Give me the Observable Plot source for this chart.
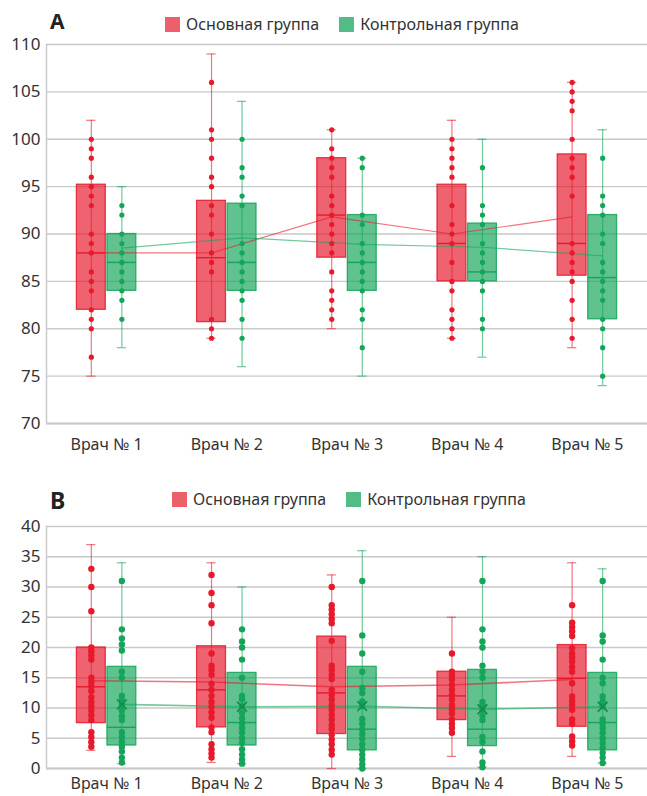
<!DOCTYPE html>
<html><head><meta charset="utf-8">
<script src="https://cdn.jsdelivr.net/npm/d3@7"></script>
<script src="https://cdn.jsdelivr.net/npm/@observablehq/plot@0.6"></script>
<style>
body{margin:0;background:#fff;font-family:"Noto Sans",sans-serif;color:#333;}
#root{width:647px;position:relative;}
.hdr{position:relative;width:647px;}
.letter{position:absolute;font-weight:bold;color:#222;line-height:1;}
.legend{position:absolute;display:flex;align-items:center;font-size:16px;line-height:20px;white-space:nowrap;color:#333;}
.sw{display:inline-block;width:15px;height:15px;}
svg{display:block}
</style></head><body><div id="root"></div>
<script>
const doctors = ["Врач № 1","Врач № 2","Врач № 3","Врач № 4","Врач № 5"];
const groups = ["Основная группа","Контрольная группа"];
const ticksA = [70,75,80,85,90,95,100,105,110];
const ticksB = [0,5,10,15,20,25,30,35,40];

// Panel A — основная группа
const aMainQ1 = [82, 80.7, 87.5, 85, 85.6];
const aMainMed = [88, 87.5, 92, 89, 89];
const aMainQ3 = [95.2, 93.5, 98, 95.2, 98.4];
const aMainLo = [75, 79, 80, 79, 78];
const aMainHi = [102, 109, 101, 102, 106];
const aMainMean = [88, 88, 91.8, 90, 91.8];
const aMainPts = [
  [100,99,98,96,95,94,93,90,89,88,86,85,84,82,81,80,77],
  [106,101,100,98,96,95,93,92,90,88,87,86,81,80,79],
  [101,99,98,97,96,94,93,92,91,90,89,88,86,84,83,82,81],
  [100,99,98,97,96,93,91,90,89,87,85,84,82,81,80,79],
  [106,105,104,103,100,98,97,96,94,89,88,87,86,85,83,81,79]
];
// Panel A — контрольная группа
const aCtrlQ1 = [84, 84, 84, 85, 81];
const aCtrlMed = [87, 87, 87, 86, 85.4];
const aCtrlQ3 = [90, 93.2, 92, 91.1, 92];
const aCtrlLo = [78, 76, 75, 77, 74];
const aCtrlHi = [95, 104, 98, 100, 101];
const aCtrlMean = [88.5, 89.6, 88.9, 88.6, 87.7];
const aCtrlPts = [
  [93,92,90,89,88,87,86,85,84,83,81],
  [100,97,96,94,93,89,88,87,86,85,84,83,81,79],
  [98,97,92,91,89,88,87,86,85,84,82,81,78],
  [97,93,92,91,89,88,87,86,85,84,81,80],
  [98,94,93,92,90,89,87,86,85,84,83,81,80,78,75]
];

// Panel B — основная группа
const bMainQ1 = [7.5, 6.8, 5.7, 8, 6.9];
const bMainMed = [13.5, 13, 12.5, 12, 14.9];
const bMainQ3 = [20, 20.2, 21.8, 16, 20.4];
const bMainLo = [3, 1, 0, 2, 2];
const bMainHi = [37, 34, 32, 25, 34];
const bMainMean = [14.5, 14.3, 13.5, 13.8, 14.7];
const bMainPts = [
  [33,30,26,20,19.4,18.7,18,15,14.3,13.6,12.8,11.8,11,10.3,9.6,8.8,8,6,5.2,4.4,3.6],
  [32,29,27,24,19,17,16.3,15.5,14,13,12,11,10.2,9.3,8.4,6.8,6,4,3.2,2.5,1.8],
  [30,27,26.3,25.5,24.7,24,21.1,17,16.3,15.5,14.8,13,12.2,11.4,10.5,9.7,8.9,8.1,7.2,6.5,5.6,4.8,4,3.1,2.3],
  [19,16,15.4,14.7,13.8,13,12.2,11.4,10.5,9.8,9.1,8.1,7.4,6.7,5.9],
  [27,24.1,23.4,22.7,21.9,19.9,19,18.4,17.7,16.8,16,14.1,11.9,11.2,10.5,9.7,8.1,7.4,5.3,4.5,3.8]
];
// Panel B — контрольная группа
const bCtrlQ1 = [3.8, 3.8, 3, 3.7, 3];
const bCtrlMed = [6.8, 7.6, 6.5, 6.5, 7.6];
const bCtrlQ3 = [16.8, 15.8, 16.8, 16.3, 15.8];
const bCtrlLo = [0.8, 0.8, 0, 0.2, 0.9];
const bCtrlHi = [34, 30, 36, 35, 33];
const bCtrlMean = [10.6, 10.2, 10.3, 9.8, 10.2];
const bCtrlPts = [
  [31,23,21.5,20.5,19.5,16,15,12,11.3,10.5,9.6,8.7,8,6,5.2,4.4,3.6,2.8,1.8,1],
  [23,21,20,18,15,12,11.4,10.3,9.2,8.3,7.5,6.7,5.9,5,4.2,3.2,2.3,1.5,0.8],
  [31,22,19,16,13.3,12.5,11.1,10.3,8.2,7.4,6.5,5.7,4.9,4,3.1,2.3,1.5,0.7,0],
  [31,23,21,20,17,16,15,11,10.4,9.7,8.8,8,5.2,4.4,2.8,1,0.2],
  [31,22,21,18,15,14.1,11.9,11.1,10.3,8.1,7.4,6.7,5.9,5,4.2,3.4,2.6,1.8,0.9]
];

const dotColor = ["#E8192C", "#14A55A"];
const swatchColor = ["#EC5F6B", "#52BC86"];
const GRID = "#c9c9c9";

function header(letter, letterSize, h, letterTop, legendLeft, legendTop) {
  const d = document.createElement("div");
  d.className = "hdr"; d.style.height = h + "px";
  const l = document.createElement("div");
  l.className = "letter"; l.textContent = letter;
  l.style.left = "50px"; l.style.top = letterTop + "px"; l.style.fontSize = letterSize + "px";
  d.appendChild(l);
  const lg = document.createElement("div");
  lg.className = "legend"; lg.style.left = legendLeft + "px"; lg.style.top = legendTop + "px";
  groups.forEach((g, i) => {
    const sw = document.createElement("span"); sw.className = "sw"; sw.style.background = swatchColor[i];
    sw.style.marginRight = "6px";
    const t = document.createElement("span"); t.textContent = g;
    t.style.marginRight = i === 0 ? "20px" : "0";
    lg.appendChild(sw); lg.appendChild(t);
  });
  d.appendChild(lg);
  return d;
}

function panel(cfg) {
  const off = [-0.127, 0.127], hw = 0.12, cap = 0.038;
  const boxes = [], pts = [];
  cfg.series.forEach((s, g) => {
    doctors.forEach((name, i) => {
      const x = i + off[g];
      boxes.push({g, x, q1: s.q1[i], med: s.med[i], q3: s.q3[i], lo: s.lo[i], hi: s.hi[i], mean: s.mean[i]});
      s.pts[i].forEach(v => pts.push({g, x, y: v}));
    });
  });
  const xDom = [-0.5, doctors.length - 0.5];
  const marks = [
    Plot.gridY(cfg.ticks, {stroke: GRID, strokeOpacity: 1, strokeWidth: 1.3}),
    Plot.ruleX([xDom[0]], {stroke: GRID, strokeWidth: 1.5}),
    Plot.ruleY([cfg.ticks[0]], {stroke: GRID, strokeWidth: 2.2})
  ];
  [0, 1].forEach(g => {
    const b = boxes.filter(d => d.g === g);
    const c = dotColor[g];
    marks.push(
      Plot.ruleX(b, {x: "x", y1: "lo", y2: "hi", stroke: c, strokeOpacity: 0.6, strokeWidth: 1.2}),
      Plot.ruleY(b, {y: "lo", x1: d => d.x - cap, x2: d => d.x + cap, stroke: c, strokeOpacity: 0.6, strokeWidth: 1.2}),
      Plot.ruleY(b, {y: "hi", x1: d => d.x - cap, x2: d => d.x + cap, stroke: c, strokeOpacity: 0.6, strokeWidth: 1.2}),
      Plot.rect(b, {x1: d => d.x - hw, x2: d => d.x + hw, y1: "q1", y2: "q3", fill: c, fillOpacity: 0.68, stroke: c, strokeOpacity: 0.85, strokeWidth: 1.3}),
      Plot.ruleY(b, {y: "med", x1: d => d.x - hw, x2: d => d.x + hw, stroke: c, strokeWidth: 1.4})
    );
  });
  [0, 1].forEach(g => {
    marks.push(Plot.line(boxes.filter(d => d.g === g), {x: "x", y: "mean", stroke: dotColor[g], strokeOpacity: 0.6, strokeWidth: cfg.lineW}));
  });
  [0, 1].forEach(g => {
    marks.push(Plot.dot(pts.filter(d => d.g === g), {x: "x", y: "y", r: cfg.r, fill: dotColor[g], stroke: "none"}));
  });
  if (cfg.meanX) {
    marks.push(Plot.dot(boxes.filter(d => d.g === 1), {x: "x", y: "mean", symbol: "times", r: 4.5, stroke: "#148a4c", strokeWidth: 1.6}));
  }
  marks.push(
    Plot.axisY(cfg.ticks, {tickSize: 0, tickPadding: 6, fontSize: 17, fill: "#333"}),
    Plot.axisX(d3.range(doctors.length), {tickSize: 0, tickPadding: cfg.xPad, fontSize: 16, fill: "#333", tickFormat: i => doctors[i]})
  );
  return Plot.plot({
    width: 647, height: cfg.height,
    marginLeft: 46, marginRight: 0, marginTop: cfg.mt, marginBottom: cfg.mb,
    style: {fontFamily: "Noto Sans", color: "#333", background: "#fff", overflow: "visible"},
    x: {domain: xDom, label: null},
    y: {domain: cfg.domain, label: null},
    marks
  });
}

const root = document.getElementById("root");
root.appendChild(header("A", 21, 34, 11, 165, 14));
root.appendChild(panel({
  series: [
    {q1: aMainQ1, med: aMainMed, q3: aMainQ3, lo: aMainLo, hi: aMainHi, mean: aMainMean, pts: aMainPts},
    {q1: aCtrlQ1, med: aCtrlMed, q3: aCtrlQ3, lo: aCtrlLo, hi: aCtrlHi, mean: aCtrlMean, pts: aCtrlPts}
  ],
  ticks: ticksA, domain: [70, 110], height: 426, mt: 10, mb: 37, r: 2.6, xPad: 15, lineW: 1.2, meanX: false
}));
root.appendChild(header("B", 23, 52, 29, 172, 29));
root.appendChild(panel({
  series: [
    {q1: bMainQ1, med: bMainMed, q3: bMainQ3, lo: bMainLo, hi: bMainHi, mean: bMainMean, pts: bMainPts},
    {q1: bCtrlQ1, med: bCtrlMed, q3: bCtrlQ3, lo: bCtrlLo, hi: bCtrlHi, mean: bCtrlMean, pts: bCtrlPts}
  ],
  ticks: ticksB, domain: [0, 40], height: 284, mt: 14, mb: 28, r: 3.2, xPad: 9, lineW: 1.6, meanX: true
}));
</script>
</body></html>
